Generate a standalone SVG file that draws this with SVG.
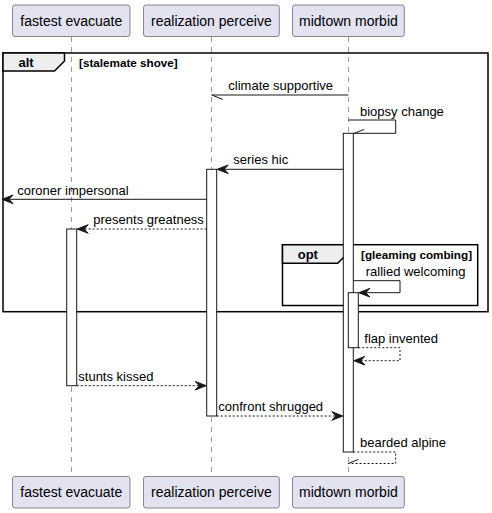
<svg xmlns="http://www.w3.org/2000/svg" width="492" height="513" viewBox="0 0 492 513">
<style>
.part rect{fill:#E2E2F0;stroke:#5A5A5A;stroke-width:0.7}
.part text{font-family:"Liberation Sans",Arial,sans-serif;font-size:14px;fill:#000;text-anchor:middle}
.life{stroke:#555555;stroke-width:0.6;stroke-dasharray:5,5}
.act{fill:#FFFFFF;stroke:#181818;stroke-width:1}
.frame{fill:none;stroke:#000;stroke-width:1.5}
.tab{fill:#EEEEEE;stroke:#000;stroke-width:1.5}
.ftitle{font-family:"Liberation Sans",Arial,sans-serif;font-size:13px;font-weight:bold}
.guard{font-family:"Liberation Sans",Arial,sans-serif;font-size:11.7px;font-weight:bold}
.msg{stroke:#181818;stroke-width:1;fill:none}
.dash{stroke-dasharray:2,2}
.head{fill:#181818;stroke:#181818;stroke-width:1}
.lbl{font-family:"Liberation Sans",Arial,sans-serif;font-size:13px;fill:#000}
</style>
<g id="lifelines">
<line class="life" x1="71.5" y1="37" x2="71.5" y2="477"/>
<line class="life" x1="211.5" y1="37" x2="211.5" y2="477"/>
<line class="life" x1="348.5" y1="37" x2="348.5" y2="477"/>
</g>
<g id="p-fastest" class="part">
<rect x="12.5" y="5" width="117.5" height="31.5" rx="2.5"/>
<text x="71.3" y="25.5">fastest evacuate</text>
<rect x="12.5" y="476.5" width="117.5" height="31.5" rx="2.5"/>
<text x="71.3" y="497">fastest evacuate</text>
</g>
<g id="p-realization" class="part">
<rect x="143.5" y="5" width="135.8" height="31.5" rx="2.5"/>
<text x="211.4" y="25.5">realization perceive</text>
<rect x="143.5" y="476.5" width="135.8" height="31.5" rx="2.5"/>
<text x="211.4" y="497">realization perceive</text>
</g>
<g id="p-midtown" class="part">
<rect x="292.5" y="5" width="111.8" height="31.5" rx="2.5"/>
<text x="348.4" y="25.5">midtown morbid</text>
<rect x="292.5" y="476.5" width="111.8" height="31.5" rx="2.5"/>
<text x="348.4" y="497">midtown morbid</text>
</g>
<g id="frame-alt">
<rect class="frame" x="3" y="53" width="485" height="258.7"/>
<polygon class="tab" points="3,53 64.5,53 64.5,61 54.5,71 3,71"/>
<text class="ftitle" x="18.5" y="67">alt</text>
<text class="guard" x="79" y="66.5">[stalemate shove]</text>
</g>
<g id="frame-opt">
<rect class="frame" x="282.5" y="244.7" width="195.2" height="60.8"/>
<polygon class="tab" points="282.5,244.7 347.7,244.7 347.7,253.3 337.7,263.3 282.5,263.3"/>
<text class="ftitle" x="297.7" y="258.5">opt</text>
<text class="guard" x="361" y="258.5">[gleaming combing]</text>
</g>
<g id="activations">
<rect id="act-midtown" class="act" x="343.3" y="133.3" width="10" height="318.7"/>
<rect id="act-realization" class="act" x="206.7" y="169.3" width="10" height="246.7"/>
<rect id="act-fastest" class="act" x="66.7" y="229" width="10" height="156.7"/>
<rect id="act-midtown-2" class="act" x="348.3" y="292.7" width="10" height="55"/>
</g>
<g id="connectors">
<line class="msg" x1="348.3" y1="95" x2="211.7" y2="95"/>
<line class="msg" x1="211.7" y1="95" x2="222.7" y2="99.3"/>
<text class="lbl" x="228.3" y="90">climate supportive</text>

<polyline class="msg" points="348.3,120 395.7,120 395.7,133.3 353.3,133.3"/>
<line class="msg" x1="354.3" y1="133.3" x2="364.3" y2="129.3"/>
<text class="lbl" x="360" y="115.5">biopsy change</text>

<line class="msg" x1="343.3" y1="169.3" x2="218" y2="169.3"/>
<polygon class="head" points="217.2,169.3 228.2,165 224.2,169.3 228.2,173.6"/>
<text class="lbl" x="233.3" y="164">series hic</text>

<line class="msg" x1="206.7" y1="199.3" x2="3" y2="199.3"/>
<polygon class="head" points="2,199.3 13,195 9,199.3 13,203.6"/>
<text class="lbl" x="17.3" y="194.5">coroner impersonal</text>

<line class="msg dash" x1="206.7" y1="229" x2="78" y2="229"/>
<polygon class="head" points="77.2,229 88.2,224.7 84.2,229 88.2,233.3"/>
<text class="lbl" x="93.3" y="224">presents greatness</text>

<polyline class="msg" points="353.3,280.7 400,280.7 400,292.7 359.5,292.7"/>
<polygon class="head" points="358.8,292.7 369.8,288.4 365.8,292.7 369.8,297"/>
<text class="lbl" x="365.7" y="275.5">rallied welcoming</text>

<polyline class="msg dash" points="358.3,347.7 400,347.7 400,360.7 354.5,360.7"/>
<polygon class="head" points="353.8,360.7 364.8,356.4 360.8,360.7 364.8,365"/>
<text class="lbl" x="364.3" y="342.5">flap invented</text>

<line class="msg dash" x1="76.7" y1="385.7" x2="205.5" y2="385.7"/>
<polygon class="head" points="206.2,385.7 195.2,381.4 199.2,385.7 195.2,390"/>
<text class="lbl" x="78.3" y="380.5">stunts kissed</text>

<line class="msg dash" x1="216.7" y1="416" x2="342" y2="416"/>
<polygon class="head" points="342.8,416 331.8,411.7 335.8,416 331.8,420.3"/>
<text class="lbl" x="218.3" y="410.5">confront shrugged</text>

<polyline class="msg dash" points="353.3,452 395.7,452 395.7,463.5 348.3,463.5"/>
<line class="msg" x1="348.3" y1="463.5" x2="358.3" y2="459.5"/>
<text class="lbl" x="360" y="446.5">bearded alpine</text>
</g>
</svg>
